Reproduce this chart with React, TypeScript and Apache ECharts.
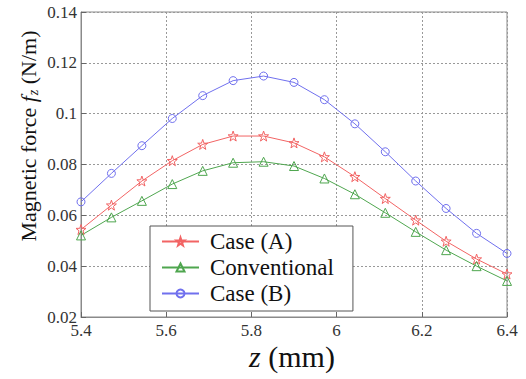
import React, { useEffect, useRef } from "react";
import * as echarts from "echarts";

const zValues = [5.4, 5.4714, 5.5429, 5.6143, 5.6857, 5.7571, 5.8286, 5.9, 5.9714, 6.0429, 6.1143, 6.1857, 6.2571, 6.3286, 6.4];
const caseA = [0.0544, 0.064, 0.0735, 0.0815, 0.0879, 0.0912, 0.0912, 0.0885, 0.083, 0.0752, 0.0666, 0.0581, 0.0498, 0.0428, 0.0369];
const conventional = [0.0521, 0.0592, 0.0657, 0.0723, 0.0775, 0.0807, 0.0811, 0.0794, 0.0745, 0.0683, 0.061, 0.0535, 0.0463, 0.04, 0.0342];
const caseB = [0.0653, 0.0765, 0.0874, 0.0981, 0.1071, 0.113, 0.1148, 0.1123, 0.1055, 0.096, 0.085, 0.0735, 0.0627, 0.0529, 0.045];
const seriesNames = ["Case (A)", "Conventional", "Case (B)"];

const FONT = "Liberation Serif";
const STAR =
  "path://M0,-10L2.35,-3.24L9.51,-3.09L3.8,1.24L5.88,8.09L0,4L-5.88,8.09L-3.8,1.24L-9.51,-3.09L-2.35,-3.24Z";

function pairs(ys: number[]) {
  return zValues.map((x, i) => [x, ys[i]]);
}

export default function App() {
  const ref = useRef<HTMLDivElement>(null);
  useEffect(() => {
    document.body.style.margin = "0";
    if (!ref.current) return;
    const chart = echarts.init(ref.current, undefined, { renderer: "svg" });
    const mk = (name: string, data: number[], color: string, symbol: string, size: number) => ({
      name,
      type: "line",
      data: pairs(data),
      symbol,
      symbolSize: size,
      lineStyle: { color, width: 1 },
      itemStyle: { color: "rgba(255,255,255,0)", borderColor: color, borderWidth: 1 },
    });
    chart.setOption({
      animation: false,
      backgroundColor: "#fff",
      textStyle: { fontFamily: FONT },
      grid: {
        left: 81,
        right: 19,
        top: 12,
        bottom: 62,
        show: true,
        borderColor: "#8a8a8a",
        borderWidth: 1,
      },
      xAxis: {
        type: "value",
        min: 5.4,
        max: 6.4,
        interval: 0.2,
        axisLine: { show: true, lineStyle: { color: "#8a8a8a" } },
        axisTick: { show: true, inside: true, length: 5, lineStyle: { color: "#666" } },
        axisLabel: { color: "#333", fontFamily: FONT, fontSize: 17, margin: 5 },
        splitLine: { show: true, lineStyle: { color: "#999", type: [2, 2], width: 1 } },
      },
      yAxis: {
        type: "value",
        min: 0.02,
        max: 0.14,
        interval: 0.02,
        axisLine: { show: true, lineStyle: { color: "#8a8a8a" } },
        axisTick: { show: true, inside: true, length: 5, lineStyle: { color: "#666" } },
        axisLabel: { color: "#333", fontFamily: FONT, fontSize: 17, margin: 4 },
        splitLine: { show: true, lineStyle: { color: "#999", type: [2, 2], width: 1 } },
      },
      legend: {
        orient: "vertical",
        left: 150,
        top: 226,
        data: seriesNames,
        backgroundColor: "#fff",
        borderColor: "#555",
        borderWidth: 1,
        padding: [4, 19, 6, 11],
        itemWidth: 37,
        itemHeight: 10,
        itemGap: 3,
        itemStyle: { color: "rgba(255,255,255,0)" },
        textStyle: { fontFamily: FONT, fontSize: 23, color: "#111", lineHeight: 23, padding: [0, 0, 0, 6] },
      },
      graphic: [
        {
          type: "text",
          x: 292,
          y: 356,
          style: {
            text: "{i|z} (mm)",
            fontFamily: FONT,
            fontSize: 30,
            fill: "#111",
            align: "center",
            verticalAlign: "middle",
            rich: {
              i: { fontFamily: FONT, fontSize: 30, fontStyle: "italic", fill: "#111" },
            },
          },
        },
        {
          type: "text",
          x: 28,
          y: 136,
          rotation: Math.PI / 2,
          style: {
            text: "Magnetic force {i|f}{s|z} (N/m)",
            fontFamily: FONT,
            fontSize: 22,
            fill: "#111",
            align: "center",
            verticalAlign: "middle",
            rich: {
              i: { fontFamily: FONT, fontSize: 22, fontStyle: "italic", fill: "#111" },
              s: { fontFamily: FONT, fontSize: 14, fontStyle: "italic", fill: "#111", padding: [10, 0, 0, 1] },
            },
          },
        },
      ],
      series: [
        mk(seriesNames[0], caseA, "#f26464", STAR, 10),
        mk(seriesNames[1], conventional, "#4fa64f", "triangle", 9),
        mk(seriesNames[2], caseB, "#7070ee", "circle", 8),
      ],
    });
    return () => chart.dispose();
  }, []);
  return <div ref={ref} style={{ width: 526, height: 379 }} />;
}
